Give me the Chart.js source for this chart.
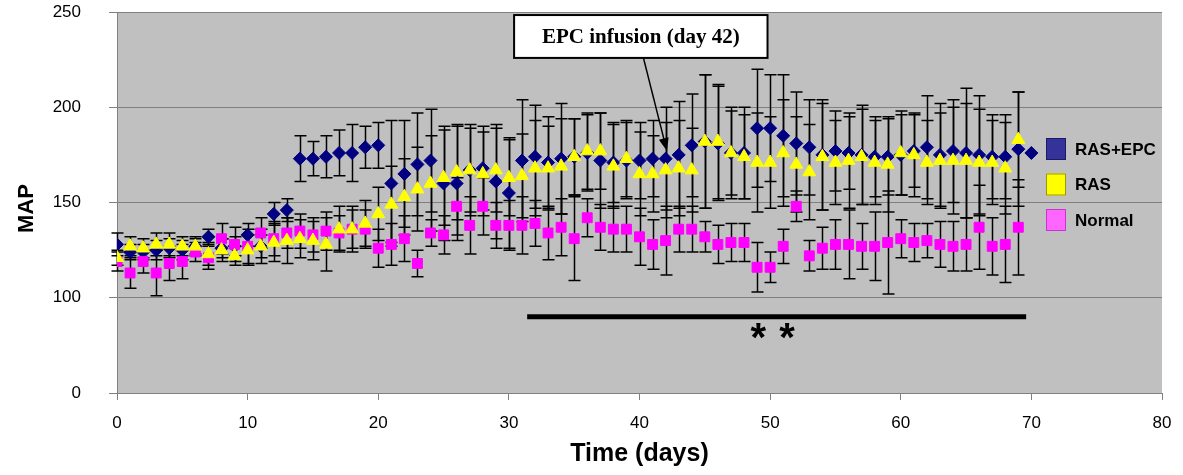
<!DOCTYPE html>
<html>
<head>
<meta charset="utf-8">
<script src="https://cdn.jsdelivr.net/npm/chart.js@4/dist/chart.umd.min.js"></script>
<style>
  html, body { margin: 0; padding: 0; background: #fff; }
  #wrap { width: 1183px; height: 475px; }
</style>
</head>
<body>
<div id="wrap"><canvas id="mapChart" width="1183" height="475"></canvas></div>
<script>
// days of measurement
const days = [0,1,2,3,4,5,6,7,8,9,10,11,12,13,14,15,16,17,18,19,20,21,22,23,24,25,26,27,28,29,30,31,32,33,34,35,36,37,38,39,40,41,42,43,44,45,46,47,48,49,50,51,52,53,54,55,56,57,58,59,60,61,62,63,64,65,66,67,68,69,70];

// RAS+EPC (days 0..70)
const rasEpc = [128,124,124,125,126,125,127,132,126,127,133,127,144,146,173,173,174,176,176,179,180,160,165,170,172,160,160,167,168,161,155,172,174,171,173,174,176,172,171,172,172,173,173,175,180,182,181,176,176,189,189,185,181,179,175,177,176,175,174,174,175,177,179,175,177,176,175,174,174,178,176];
const rasEpcErr = [6,4,4,5,5,5,4,4,5,5,6,6,6,6,12,9,11,12,15,11,12,33,28,27,27,30,30,24,22,30,29,32,27,24,29,20,20,25,21,20,20,20,27,28,27,35,30,24,24,31,28,32,27,25,29,21,19,26,21,20,21,19,27,27,27,34,31,22,22,30,0];

// RAS (days 0..69)
const ras = [121,127,126,128,128,127,127,123,125,122,125,127,129,130,131,130,128,136,136,139,144,149,153,157,160,163,166,167,165,167,163,164,168,168,169,174,177,177,169,173,165,165,167,168,167,182,182,176,174,171,171,176,170,166,174,171,172,174,171,170,176,175,171,172,172,172,171,171,168,183];
const rasErr = [4,5,5,6,6,5,5,6,6,5,8,9,10,12,10,10,14,12,12,12,14,20,20,22,25,25,25,22,22,22,20,22,25,22,25,20,20,20,22,20,22,20,25,25,22,35,30,22,22,26,24,28,25,25,28,22,25,25,22,25,22,22,22,25,28,30,28,22,24,25];

// Normal (days 0..69)
const normal = [119,113,119,113,118,119,124,121,131,128,127,134,131,134,135,133,135,134,136,136,126,128,131,118,134,133,148,138,148,138,138,138,139,134,137,131,142,137,136,136,132,128,130,136,136,132,128,129,129,116,116,127,148,122,126,128,128,127,127,129,131,129,130,128,127,128,137,127,128,137];
const normalErr = [5,8,6,12,9,9,5,6,8,9,9,8,9,8,9,9,10,9,10,10,10,11,12,7,7,10,15,15,15,12,13,15,12,14,15,22,10,12,12,12,15,13,18,12,12,8,10,10,10,13,8,9,8,8,11,13,18,12,18,27,10,10,9,12,13,14,22,15,20,25];

const seriesNames = ['RAS+EPC', 'RAS', 'Normal'];
const yTicks = [50, 100, 150, 200, 250];
const yTickLabels = ['0', '100', '150', '200', '250'];

// significance bar and infusion note, in data units
const sigFrom = 31.4, sigTo = 69.6, sigLevel = 90;
const starDays = [49.1, 51.3], starLevel = 84;
const noteText = 'EPC infusion (day 42)';
const noteBox = { x0: 30.4, x1: 49.8, y0: 248.4, y1: 225.9 };
const noteFrom = { x: 40.3, y: 225.9 }, noteTo = { x: 42.1, y: 177 };

const FONT = '"Liberation Sans", Arial, sans-serif';

function pts(vals) { return vals.map((v, i) => ({ x: days[i], y: v })); }

const plotBg = {
  id: 'plotBg',
  beforeDraw(chart) {
    const a = chart.chartArea, ctx = chart.ctx;
    ctx.save();
    ctx.fillStyle = '#C0C0C0';
    ctx.fillRect(a.left, a.top, a.right - a.left, a.bottom - a.top);
    ctx.restore();
  }
};

const errBars = {
  id: 'errBars',
  beforeDatasetsDraw(chart) {
    const ctx = chart.ctx, xs = chart.scales.x, ys = chart.scales.y;
    const sets = [[rasEpc, rasEpcErr], [ras, rasErr], [normal, normalErr]];
    ctx.save();
    ctx.strokeStyle = '#000';
    ctx.lineWidth = 1.5;
    sets.forEach(([vals, errs]) => {
      vals.forEach((v, i) => {
        const e = errs[i];
        if (!e) return;
        const px = Math.round(xs.getPixelForValue(days[i])) + 0.5;
        const top = ys.getPixelForValue(v + e), bot = ys.getPixelForValue(v - e);
        ctx.beginPath();
        ctx.moveTo(px, top); ctx.lineTo(px, bot);
        ctx.moveTo(px - 6, top); ctx.lineTo(px + 6, top);
        ctx.moveTo(px - 6, bot); ctx.lineTo(px + 6, bot);
        ctx.stroke();
      });
    });
    ctx.restore();
  }
};

const extras = {
  id: 'extras',
  afterDraw(chart) {
    const ctx = chart.ctx, xs = chart.scales.x, ys = chart.scales.y, a = chart.chartArea;
    ctx.save();

    // y axis title, sits a little below the axis middle
    ctx.fillStyle = '#000';
    ctx.font = 'bold 22px ' + FONT;
    ctx.textAlign = 'center';
    ctx.textBaseline = 'middle';
    ctx.translate(27, (a.top + a.bottom) / 2 + 6);
    ctx.rotate(-Math.PI / 2);
    ctx.fillText('MAP', 0, 0);
    ctx.setTransform(1, 0, 0, 1, 0, 0);

    // significance bar
    ctx.strokeStyle = '#000';
    ctx.lineWidth = 5;
    ctx.beginPath();
    ctx.moveTo(xs.getPixelForValue(sigFrom), ys.getPixelForValue(sigLevel));
    ctx.lineTo(xs.getPixelForValue(sigTo), ys.getPixelForValue(sigLevel));
    ctx.stroke();

    ctx.font = 'bold 40px ' + FONT;
    ctx.textBaseline = 'alphabetic';
    starDays.forEach(d => {
      ctx.fillText('*', xs.getPixelForValue(d), ys.getPixelForValue(starLevel) + 23);
    });

    // note box
    const bx0 = xs.getPixelForValue(noteBox.x0), bx1 = xs.getPixelForValue(noteBox.x1);
    const by0 = ys.getPixelForValue(noteBox.y0), by1 = ys.getPixelForValue(noteBox.y1);
    ctx.fillStyle = '#fff';
    ctx.fillRect(bx0, by0, bx1 - bx0, by1 - by0);
    ctx.lineWidth = 2;
    ctx.strokeRect(bx0, by0, bx1 - bx0, by1 - by0);
    ctx.fillStyle = '#000';
    ctx.font = 'bold 21px "Liberation Serif", "Times New Roman", serif';
    ctx.textBaseline = 'middle';
    ctx.fillText(noteText, (bx0 + bx1) / 2, (by0 + by1) / 2 + 1);

    // arrow
    const fx = xs.getPixelForValue(noteFrom.x), fy = ys.getPixelForValue(noteFrom.y);
    const tx = xs.getPixelForValue(noteTo.x), ty = ys.getPixelForValue(noteTo.y);
    const ang = Math.atan2(ty - fy, tx - fx);
    ctx.lineWidth = 1.5;
    ctx.beginPath();
    ctx.moveTo(fx, fy); ctx.lineTo(tx - 10 * Math.cos(ang), ty - 10 * Math.sin(ang));
    ctx.stroke();
    ctx.beginPath();
    ctx.moveTo(tx, ty);
    ctx.lineTo(tx - 13 * Math.cos(ang) + 5 * Math.sin(ang), ty - 13 * Math.sin(ang) - 5 * Math.cos(ang));
    ctx.lineTo(tx - 13 * Math.cos(ang) - 5 * Math.sin(ang), ty - 13 * Math.sin(ang) + 5 * Math.cos(ang));
    ctx.closePath();
    ctx.fill();

    // legend, inside the plot area on the right
    const boxes = [['#333399', '#1a1a66'], ['#FFFF00', '#999900'], ['#FF66FF', '#cc33cc']];
    const lx = a.right - 116;
    ctx.font = 'bold 17px ' + FONT;
    ctx.textAlign = 'left';
    ctx.textBaseline = 'middle';
    seriesNames.forEach((name, i) => {
      const top = 138 + i * 35.5;
      ctx.fillStyle = boxes[i][0];
      ctx.fillRect(lx, top, 20, 22);
      ctx.strokeStyle = boxes[i][1];
      ctx.lineWidth = 1;
      ctx.strokeRect(lx + 0.5, top + 0.5, 19, 21);
      ctx.fillStyle = '#000';
      ctx.fillText(name, lx + 29, top + 12);
    });
    ctx.restore();
  }
};

document.addEventListener('DOMContentLoaded', () => {
  const ctx = document.getElementById('mapChart').getContext('2d');
  new Chart(ctx, {
    type: 'scatter',
    data: {
      datasets: [
        { label: seriesNames[0], data: pts(rasEpc), pointStyle: 'rectRot', pointRadius: 6.5, backgroundColor: '#000080', borderColor: '#000080', borderWidth: 1, order: 2 },
        { label: seriesNames[1], data: pts(ras), pointStyle: 'triangle', pointRadius: 7.5, backgroundColor: '#FFFF00', borderColor: '#FFFF00', borderWidth: 1, order: 0 },
        { label: seriesNames[2], data: pts(normal), pointStyle: 'rect', pointRadius: 7, backgroundColor: '#FF00FF', borderColor: '#FF00FF', borderWidth: 1, order: 1 }
      ]
    },
    options: {
      responsive: false,
      animation: false,
      devicePixelRatio: 1,
      layout: { padding: { top: 12, right: 21, left: 0, bottom: 0 } },
      plugins: { legend: { display: false }, tooltip: { enabled: false } },
      scales: {
        x: {
          type: 'linear', min: 0, max: 80,
          afterFit: s => { s.height = 82; s.paddingLeft = 0; s.paddingRight = 10; },
          ticks: { stepSize: 10, color: '#000', font: { family: FONT, size: 17 }, padding: 13, maxRotation: 0 },
          grid: { drawOnChartArea: false, drawTicks: true, tickLength: 7, color: '#808080' },
          border: { color: '#808080' },
          title: { display: true, text: 'Time (days)', color: '#000', font: { family: FONT, size: 25, weight: 'bold' }, padding: { top: 0, bottom: 6 } }
        },
        y: {
          type: 'linear', min: 50, max: 250,
          afterFit: s => { s.width = 117; s.paddingTop = 10; s.paddingBottom = 10; },
          afterBuildTicks: s => { s.ticks = yTicks.map(v => ({ value: v })); },
          ticks: { color: '#000', font: { family: FONT, size: 17 }, padding: 28, callback: v => yTickLabels[yTicks.indexOf(v)] },
          grid: { color: '#808080', tickLength: 8 },
          border: { color: '#808080' },
          title: { display: false }
        }
      }
    },
    plugins: [plotBg, errBars, extras]
  });
});
</script>
</body>
</html>
